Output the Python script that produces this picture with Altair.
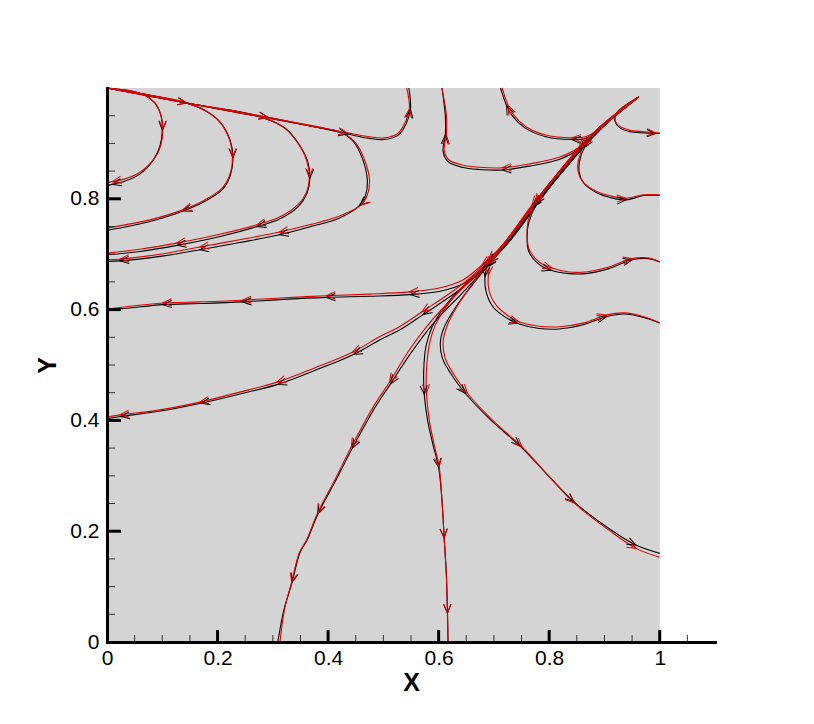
import math
import altair as alt
import pandas as pd

# ---------------- axis ticks / labels ----------------
X_LABELS = [0, 0.2, 0.4, 0.6, 0.8, 1.0]
Y_LABELS = [0, 0.2, 0.4, 0.6, 0.8]
X_MAJOR = [0.2, 0.4, 0.6, 0.8, 1.0]
X_MINOR = [0.05, 0.1, 0.15, 0.25, 0.3, 0.35, 0.45, 0.5, 0.55, 0.65, 0.7, 0.75,
           0.85, 0.9, 0.95, 1.05]
Y_MAJOR = [0.2, 0.4, 0.6, 0.8]
Y_MINOR = [0.05, 0.1, 0.15, 0.25, 0.3, 0.35, 0.45, 0.5, 0.55, 0.65, 0.7, 0.75,
           0.85, 0.9, 0.95]

# ---------------- streamlines (red set) ----------------
red_C1 = [(0, 1.0), (0.0415, 0.995), (0.0686, 0.987), (0.0866, 0.973), (0.0975, 0.951),
          (0.101, 0.925), (0.0975, 0.897), (0.0866, 0.874), (0.0596, 0.848), (0.0325, 0.836),
          (0.0099, 0.831), (0, 0.829)]
red_C2 = [(0, 1.0), (0.0776, 0.987), (0.137, 0.975), (0.177, 0.960), (0.204, 0.939),
          (0.222, 0.906), (0.227, 0.875), (0.222, 0.843), (0.208, 0.819), (0.177, 0.798),
          (0.137, 0.780), (0.0776, 0.762), (0.0325, 0.753), (0, 0.747)]
red_C3 = [(0, 1.0), (0.144, 0.973), (0.240, 0.955), (0.282, 0.947), (0.321, 0.928),
          (0.345, 0.901), (0.361, 0.870), (0.366, 0.839), (0.361, 0.812), (0.345, 0.789),
          (0.312, 0.767), (0.271, 0.753), (0.204, 0.736), (0.126, 0.720), (0.0596, 0.709),
          (0, 0.702)]
red_C4 = [(0, 1.0), (0.144, 0.973), (0.291, 0.946), (0.380, 0.929), (0.421, 0.921),
          (0.448, 0.903), (0.466, 0.870), (0.475, 0.834), (0.471, 0.807), (0.460, 0.789),
          (0.421, 0.769), (0.366, 0.753), (0.312, 0.740), (0.240, 0.726), (0.168, 0.713),
          (0.0957, 0.700), (0.0235, 0.691), (0, 0.690)]
red_L1 = [(0, 1.0), (0.0776, 0.987), (0.144, 0.973), (0.222, 0.960), (0.291, 0.947),
          (0.366, 0.933), (0.435, 0.919), (0.475, 0.912), (0.502, 0.910), (0.525, 0.917),
          (0.538, 0.935), (0.547, 0.962), (0.545, 0.987), (0.542, 1.0)]
red_A = [(0.962, 0.984), (0.890, 0.928), (0.854, 0.893), (0.809, 0.838), (0.769, 0.789),
         (0.727, 0.731), (0.700, 0.700), (0.679, 0.681), (0.643, 0.653), (0.601, 0.639),
         (0.547, 0.632), (0.475, 0.628), (0.397, 0.625), (0.312, 0.621), (0.245, 0.617),
         (0.168, 0.614), (0.101, 0.612), (0.0415, 0.606), (0, 0.601)]
red_B = [(0.962, 0.984), (0.890, 0.926), (0.809, 0.836), (0.727, 0.728), (0.690, 0.690),
         (0.660, 0.660), (0.628, 0.635), (0.570, 0.596), (0.529, 0.569), (0.493, 0.551),
         (0.444, 0.523), (0.384, 0.498), (0.307, 0.469), (0.240, 0.451), (0.168, 0.433),
         (0.0957, 0.419), (0.0235, 0.410), (0, 0.406)]
red_C = [(0.962, 0.984), (0.890, 0.926), (0.809, 0.836), (0.727, 0.728), (0.684, 0.680),
         (0.637, 0.632), (0.588, 0.581), (0.547, 0.527), (0.511, 0.469), (0.484, 0.428),
         (0.442, 0.352), (0.412, 0.292), (0.381, 0.233), (0.361, 0.184), (0.348, 0.161),
         (0.334, 0.108), (0.321, 0.058), (0.313, 0.0)]
red_D = [(0.962, 0.984), (0.890, 0.926), (0.809, 0.836), (0.727, 0.730), (0.690, 0.684),
         (0.646, 0.644), (0.616, 0.608), (0.594, 0.572), (0.583, 0.536), (0.578, 0.491),
         (0.578, 0.449), (0.583, 0.401), (0.592, 0.356), (0.601, 0.316), (0.606, 0.256),
         (0.610, 0.188), (0.614, 0.121), (0.616, 0.052), (0.617, 0.0)]
red_E = [(0.962, 0.984), (0.890, 0.928), (0.809, 0.838), (0.727, 0.731), (0.695, 0.690),
         (0.664, 0.650), (0.636, 0.610), (0.615, 0.570), (0.608, 0.540), (0.612, 0.512),
         (0.625, 0.487), (0.652, 0.449), (0.697, 0.401), (0.751, 0.352), (0.796, 0.303),
         (0.845, 0.251), (0.908, 0.202), (0.957, 0.169), (1.0, 0.153)]
red_R4 = [(0.962, 0.984), (0.890, 0.928), (0.809, 0.838), (0.740, 0.745), (0.708, 0.703),
          (0.695, 0.686), (0.690, 0.662), (0.691, 0.635), (0.704, 0.608), (0.727, 0.588),
          (0.745, 0.578), (0.782, 0.570), (0.818, 0.569), (0.863, 0.576), (0.903, 0.590),
          (0.935, 0.594), (0.971, 0.587), (1.0, 0.576)]
red_R3 = [(0.962, 0.984), (0.890, 0.928), (0.809, 0.838), (0.775, 0.793), (0.762, 0.760),
          (0.760, 0.735), (0.764, 0.708), (0.782, 0.686), (0.805, 0.675), (0.836, 0.668),
          (0.866, 0.668), (0.908, 0.677), (0.950, 0.692), (0.980, 0.693), (1.0, 0.686)]
red_R2 = [(0.962, 0.984), (0.890, 0.928), (0.862, 0.895), (0.853, 0.870), (0.852, 0.851),
          (0.860, 0.832), (0.884, 0.814), (0.912, 0.805), (0.939, 0.801), (0.971, 0.807),
          (1.0, 0.807)]
red_R1 = [(0.962, 0.984), (0.922, 0.955), (0.919, 0.942), (0.926, 0.932), (0.945, 0.924),
          (0.972, 0.921), (0.993, 0.919), (1.0, 0.919)]
red_T2 = [(0.962, 0.984), (0.926, 0.957), (0.890, 0.926), (0.866, 0.912), (0.841, 0.910),
          (0.794, 0.915), (0.758, 0.930), (0.736, 0.951), (0.726, 0.968), (0.719, 0.987),
          (0.715, 1.0)]
red_T1 = [(0.962, 0.984), (0.890, 0.928), (0.854, 0.893), (0.818, 0.875), (0.764, 0.863),
          (0.715, 0.856), (0.673, 0.857), (0.643, 0.861), (0.619, 0.870), (0.610, 0.888),
          (0.614, 0.915), (0.614, 0.951), (0.610, 0.978), (0.606, 1.0)]

# ---------------- streamlines (black set) ----------------
blk_C1 = [(0, 1.0), (0.0415, 0.995), (0.0686, 0.987), (0.0866, 0.973), (0.0975, 0.951),
          (0.100, 0.924), (0.096, 0.896), (0.085, 0.872), (0.060, 0.845), (0.033, 0.832),
          (0.010, 0.826), (0, 0.824)]
blk_C2 = [(0, 1.0), (0.0776, 0.987), (0.137, 0.975), (0.178, 0.959), (0.205, 0.938),
          (0.223, 0.905), (0.228, 0.874), (0.223, 0.842), (0.209, 0.817), (0.178, 0.796),
          (0.138, 0.778), (0.078, 0.759), (0.033, 0.749), (0, 0.743)]
blk_C3 = [(0, 1.0), (0.144, 0.973), (0.240, 0.955), (0.283, 0.946), (0.323, 0.927),
          (0.347, 0.899), (0.363, 0.868), (0.367, 0.837), (0.362, 0.810), (0.346, 0.786),
          (0.313, 0.764), (0.272, 0.750), (0.205, 0.732), (0.127, 0.716), (0.060, 0.705),
          (0, 0.699)]
blk_C4 = [(0, 1.0), (0.144, 0.973), (0.291, 0.946), (0.380, 0.929), (0.421, 0.921),
          (0.446, 0.903), (0.463, 0.870), (0.471, 0.834), (0.468, 0.807), (0.457, 0.788),
          (0.420, 0.765), (0.366, 0.749), (0.312, 0.735), (0.240, 0.721), (0.168, 0.708),
          (0.0957, 0.696), (0.0235, 0.688), (0, 0.687)]
blk_L1 = [(0, 1.0), (0.0776, 0.987), (0.144, 0.973), (0.222, 0.960), (0.291, 0.947),
          (0.366, 0.932), (0.435, 0.917), (0.475, 0.909), (0.502, 0.907), (0.527, 0.915),
          (0.541, 0.935), (0.549, 0.962), (0.548, 0.987), (0.546, 1.0)]
blk_A = [(0.962, 0.984), (0.890, 0.925), (0.856, 0.890), (0.811, 0.834), (0.771, 0.785),
         (0.729, 0.727), (0.702, 0.696), (0.681, 0.676), (0.645, 0.647), (0.603, 0.633),
         (0.549, 0.627), (0.475, 0.624), (0.397, 0.622), (0.312, 0.618), (0.245, 0.614),
         (0.168, 0.611), (0.101, 0.609), (0.0415, 0.603), (0, 0.599)]
blk_B = [(0.962, 0.984), (0.892, 0.925), (0.811, 0.833), (0.729, 0.724), (0.692, 0.685),
         (0.662, 0.655), (0.630, 0.630), (0.572, 0.591), (0.531, 0.564), (0.495, 0.546),
         (0.446, 0.519), (0.386, 0.494), (0.309, 0.465), (0.242, 0.448), (0.170, 0.431),
         (0.097, 0.417), (0.025, 0.407), (0, 0.403)]
blk_C = [(0.962, 0.984), (0.892, 0.925), (0.811, 0.834), (0.729, 0.726), (0.688, 0.678),
         (0.641, 0.628), (0.592, 0.577), (0.550, 0.522), (0.513, 0.466), (0.486, 0.425),
         (0.444, 0.350), (0.413, 0.290), (0.382, 0.232), (0.362, 0.184), (0.349, 0.161),
         (0.335, 0.108), (0.320, 0.058), (0.309, 0.0)]
blk_D = [(0.962, 0.984), (0.892, 0.925), (0.811, 0.834), (0.729, 0.727), (0.688, 0.680),
         (0.642, 0.640), (0.610, 0.604), (0.588, 0.568), (0.577, 0.533), (0.573, 0.489),
         (0.574, 0.447), (0.580, 0.400), (0.590, 0.355), (0.600, 0.315), (0.606, 0.256),
         (0.610, 0.188), (0.614, 0.121), (0.616, 0.052), (0.617, 0.0)]
blk_E = [(0.962, 0.984), (0.892, 0.925), (0.811, 0.834), (0.729, 0.727), (0.695, 0.686),
         (0.662, 0.646), (0.632, 0.606), (0.610, 0.568), (0.603, 0.540), (0.607, 0.512),
         (0.621, 0.486), (0.648, 0.449), (0.693, 0.402), (0.747, 0.354), (0.794, 0.305),
         (0.845, 0.253), (0.908, 0.205), (0.957, 0.175), (1.0, 0.160)]
blk_R4 = [(0.962, 0.984), (0.892, 0.925), (0.811, 0.834), (0.742, 0.742), (0.706, 0.700),
          (0.690, 0.683), (0.684, 0.660), (0.686, 0.632), (0.699, 0.604), (0.723, 0.585),
          (0.743, 0.575), (0.782, 0.566), (0.818, 0.565), (0.863, 0.573), (0.903, 0.587),
          (0.935, 0.592), (0.971, 0.586), (1.0, 0.576)]
blk_R3 = [(0.962, 0.984), (0.892, 0.925), (0.811, 0.834), (0.777, 0.790), (0.763, 0.757),
          (0.760, 0.733), (0.763, 0.705), (0.780, 0.683), (0.803, 0.671), (0.836, 0.665),
          (0.866, 0.665), (0.908, 0.674), (0.950, 0.690), (0.980, 0.692), (1.0, 0.686)]
blk_R2 = [(0.962, 0.984), (0.892, 0.925), (0.864, 0.893), (0.855, 0.868), (0.854, 0.849),
          (0.862, 0.829), (0.886, 0.811), (0.912, 0.802), (0.939, 0.798), (0.971, 0.806),
          (1.0, 0.806)]
blk_R1 = [(0.962, 0.984), (0.922, 0.955), (0.919, 0.940), (0.927, 0.929), (0.946, 0.921),
          (0.972, 0.919), (0.993, 0.918), (1.0, 0.918)]
blk_T2 = [(0.962, 0.984), (0.926, 0.957), (0.890, 0.924), (0.866, 0.909), (0.841, 0.907),
          (0.794, 0.912), (0.756, 0.928), (0.733, 0.950), (0.723, 0.968), (0.716, 0.987),
          (0.712, 1.0)]
blk_T1 = [(0.962, 0.984), (0.890, 0.926), (0.854, 0.890), (0.818, 0.871), (0.764, 0.859),
          (0.715, 0.852), (0.673, 0.853), (0.642, 0.857), (0.617, 0.867), (0.608, 0.886),
          (0.612, 0.915), (0.612, 0.951), (0.609, 0.978), (0.606, 1.0)]

# indices of the vertices that carry a direction arrow
ARROW_AT = {
    "C1": [5, 10], "C2": [6, 10], "C3": [7, 11, 13], "C4": [9, 12, 14, 16],
    "L1": [2, 4, 6, 11], "A": [2, 4, 7, 10, 12, 14, 16], "B": [4, 7, 10, 12, 14, 16],
    "C": [4, 8, 10, 12, 15], "D": [4, 10, 13, 15, 17], "E": [11, 13, 15, 17],
    "R4": [6, 10, 14], "R3": [3, 8, 12], "R2": [2, 8], "R1": [6], "T2": [4, 8],
    "T1": [5, 10],
}

RED = {"C1": red_C1, "C2": red_C2, "C3": red_C3, "C4": red_C4, "L1": red_L1,
       "A": red_A, "B": red_B, "C": red_C, "D": red_D, "E": red_E, "R4": red_R4,
       "R3": red_R3, "R2": red_R2, "R1": red_R1, "T2": red_T2, "T1": red_T1}
BLK = {"C1": blk_C1, "C2": blk_C2, "C3": blk_C3, "C4": blk_C4, "L1": blk_L1,
       "A": blk_A, "B": blk_B, "C": blk_C, "D": blk_D, "E": blk_E, "R4": blk_R4,
       "R3": blk_R3, "R2": blk_R2, "R1": blk_R1, "T2": blk_T2, "T1": blk_T1}

W, H = 608, 554
XMAX = 1.1
SX, SY = W / XMAX, H / 1.0


def line_df(lines):
    rows = []
    for name, pts in lines.items():
        for i, (x, y) in enumerate(pts):
            rows.append({"line": name, "order": i, "x": x, "y": y})
    return pd.DataFrame(rows)


def arrow_df(lines):
    rows = []
    for name, pts in lines.items():
        n = len(pts)
        for i in ARROW_AT[name]:
            p0 = pts[max(i - 1, 0)]
            p1 = pts[min(i + 1, n - 1)]
            dx = (p1[0] - p0[0]) * SX
            dy = -(p1[1] - p0[1]) * SY
            ang = math.degrees(math.atan2(dy, dx)) % 360
            rows.append({"x": pts[i][0], "y": pts[i][1], "angle": ang})
    return pd.DataFrame(rows)


FONT = "Liberation Sans"
xs = alt.Scale(domain=[0, XMAX], nice=False, zero=False)
ys = alt.Scale(domain=[0, 1], nice=False, zero=False)
xaxis = alt.Axis(values=X_LABELS, format="~g", ticks=False, grid=False,
                 domainWidth=3, domainColor="black", domainCap="square",
                 labelFontSize=21, labelFont=FONT, labelColor="black", labelPadding=5,
                 labelFlush=False, title="X", titleFont=FONT, titleFontSize=25,
                 titleFontWeight="bold", titleColor="black", titlePadding=2, zindex=1)
yaxis = alt.Axis(values=Y_LABELS, format="~g", ticks=False, grid=False,
                 domainWidth=3, domainColor="black", domainCap="square",
                 labelFontSize=21, labelFont=FONT, labelColor="black", labelPadding=8,
                 labelFlush=False, title="Y", titleFont=FONT, titleFontSize=25,
                 titleFontWeight="bold", titleColor="black", titlePadding=9, zindex=1)

X = alt.X("x:Q", scale=xs, axis=xaxis)
Y = alt.Y("y:Q", scale=ys, axis=yaxis)

bg = alt.Chart(pd.DataFrame({"x": [0.0], "x2": [1.0], "y": [0.0], "y2": [1.0]})).mark_rect(
    color="#d4d4d4").encode(x=X, x2="x2:Q", y=Y, y2="y2:Q")

shape = "M-2,-0.8L0,0L-2,0.8"

blk_lines = alt.Chart(line_df(BLK)).mark_line(
    color="black", strokeWidth=1.1, interpolate="catmull-rom").encode(
    x=X, y=Y, detail="line:N", order="order:Q")
red_lines = alt.Chart(line_df(RED)).mark_line(
    color="#e00000", strokeWidth=1.1, interpolate="catmull-rom").encode(
    x=X, y=Y, detail="line:N", order="order:Q")
blk_arrows = alt.Chart(arrow_df(BLK)).mark_point(
    shape=shape, size=81, filled=False, color="black", strokeWidth=1, opacity=1).encode(
    x=X, y=Y, angle=alt.Angle("angle:Q", scale=None))
red_arrows = alt.Chart(arrow_df(RED)).mark_point(
    shape=shape, size=81, filled=False, color="#e00000", strokeWidth=1, opacity=1).encode(
    x=X, y=Y, angle=alt.Angle("angle:Q", scale=None))

xmaj = alt.Chart(pd.DataFrame({"x": X_MAJOR})).mark_rule(color="black", strokeWidth=3).encode(
    x=X, y=alt.value(H), y2=alt.value(H - 12))
xmin = alt.Chart(pd.DataFrame({"x": X_MINOR})).mark_rule(color="#333333", strokeWidth=1).encode(
    x=X, y=alt.value(H), y2=alt.value(H - 7))
ymaj = alt.Chart(pd.DataFrame({"y": Y_MAJOR})).mark_rule(color="black", strokeWidth=3).encode(
    y=Y, x=alt.value(0), x2=alt.value(14))
ymin = alt.Chart(pd.DataFrame({"y": Y_MINOR})).mark_rule(color="#333333", strokeWidth=1).encode(
    y=Y, x=alt.value(0), x2=alt.value(8))

chart = alt.layer(bg, blk_lines, red_lines, blk_arrows, red_arrows, xmaj, xmin, ymaj, ymin).properties(
    width=W, height=H,
    autosize=alt.AutoSizeParams(type="none"),
    padding={"left": 99, "top": 80, "right": 20, "bottom": 70},
    background="white",
).configure_view(stroke=None)

chart.save("out.html", embed_options={"renderer": "svg", "actions": False})
